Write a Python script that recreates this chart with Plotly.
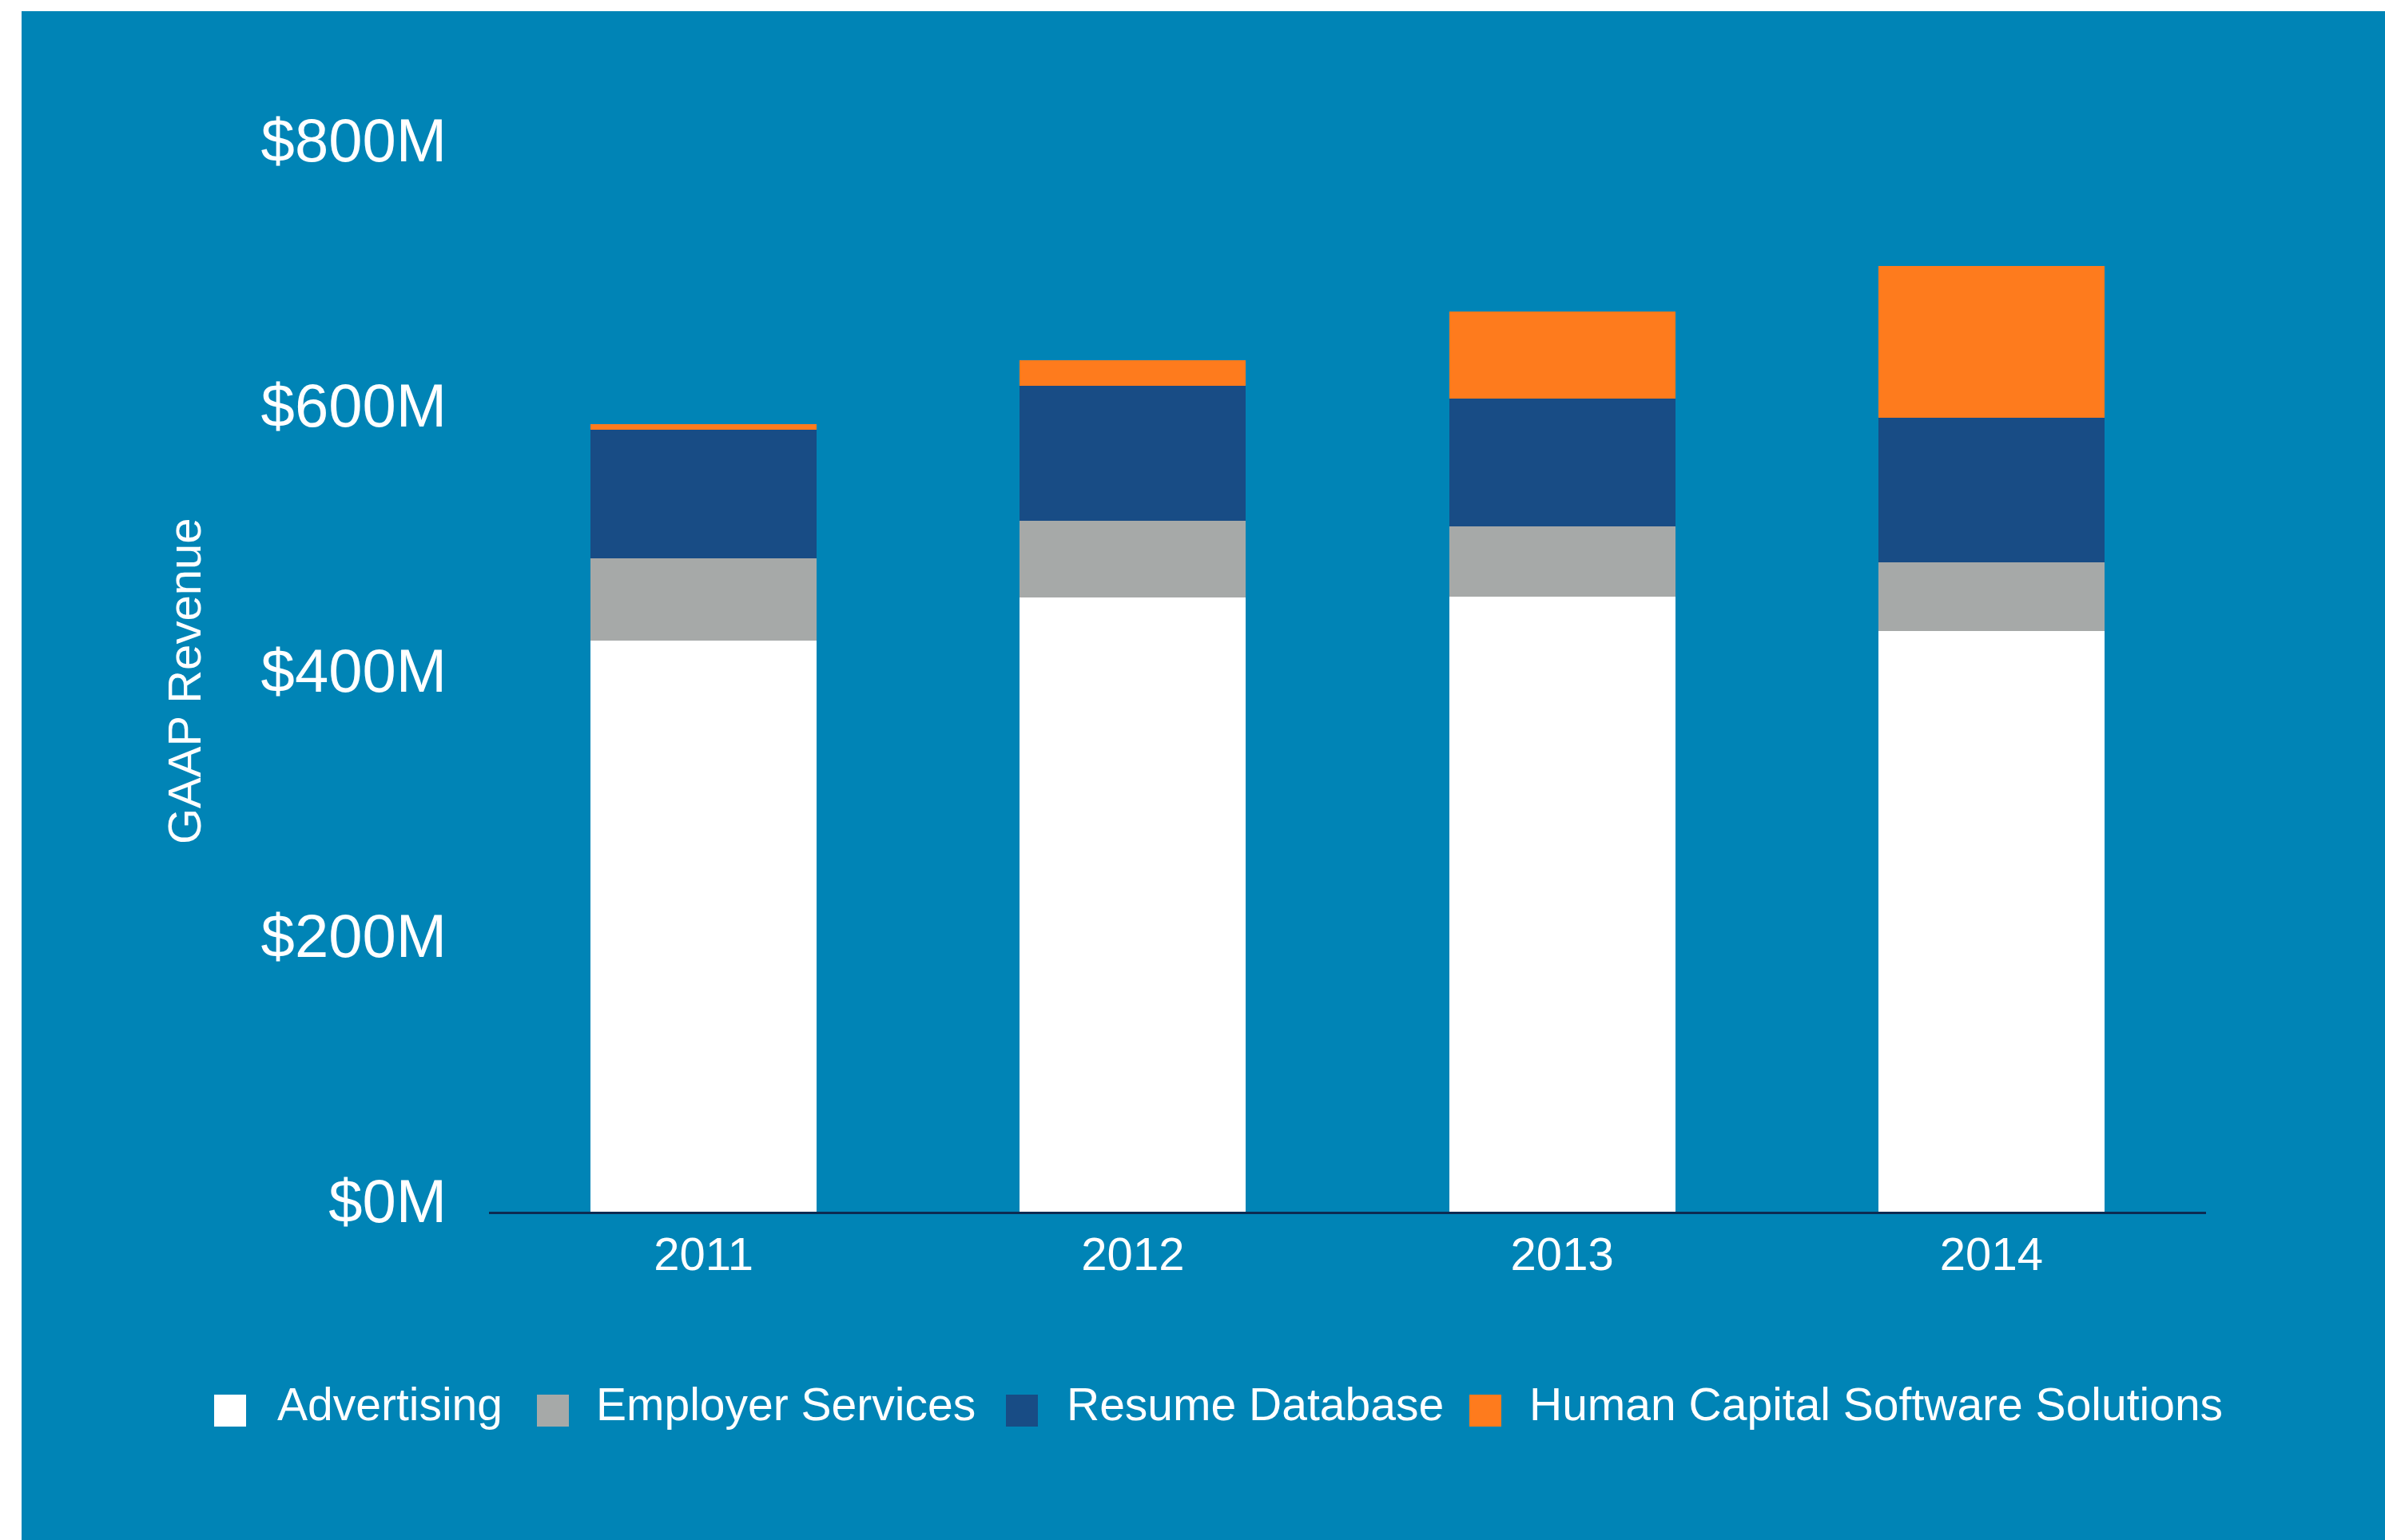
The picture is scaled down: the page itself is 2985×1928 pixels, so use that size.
import plotly.graph_objects as go

# Revenue by segment, $M
years = ["2011", "2012", "2013", "2014"]
advertising = [431, 463, 464, 438]
employer_services = [62, 58, 53, 52]
resume_database = [97, 102, 96, 109]
hcss = [4, 19, 66, 114]

series_names = ["Advertising", "Employer Services", "Resume Database",
                "Human Capital Software Solutions"]
series_colors = ["#FFFFFF", "#A6A9A8", "#184C85", "#FE7B1D"]

y_tickvals = [0, 200, 400, 600, 800]
y_ticktext = ["$0M", "$200M", "$400M", "$600M", "$800M"]

W, H = 2985, 1928
ML, MR, MT, MB = 612, 224, 189, 411
PW, PH = W - ML - MR, H - MT - MB
BG = "#0084B6"
FONT = "Liberation Sans, Arial, sans-serif"


def px_x(px):
    return (px - ML) / PW


def px_y(py):
    return (H - MB - py) / PH


fig = go.Figure()
for name, vals, col in zip(series_names,
                           [advertising, employer_services, resume_database, hcss],
                           series_colors):
    fig.add_trace(go.Bar(x=years, y=vals, name=name, marker_color=col,
                         marker_line_width=0, showlegend=False))

# background panel with thin white frame at top/left
shapes = [dict(type="rect", xref="paper", yref="paper", layer="below",
               x0=px_x(27), x1=px_x(W + 5), y0=px_y(H + 5), y1=px_y(14),
               fillcolor=BG, line_width=0)]

# legend: swatches and labels
swatch_left = [268, 672, 1259, 1839]
label_left = [345, 744, 1333, 1912]
annotations = []
for sx, lx, name, col in zip(swatch_left, label_left, series_names, series_colors):
    shapes.append(dict(type="rect", xref="paper", yref="paper",
                       x0=px_x(sx), x1=px_x(sx + 40), y0=px_y(1786), y1=px_y(1746),
                       fillcolor=col, line_width=0))
    annotations.append(dict(x=px_x(lx), y=px_y(1758), xref="paper", yref="paper",
                            text=name, showarrow=False, xanchor="left", yanchor="middle",
                            font=dict(family=FONT, size=57, color="white")))

annotations.append(dict(x=px_x(230), y=px_y(853), xref="paper", yref="paper",
                        text="GAAP Revenue", showarrow=False, textangle=-90,
                        xanchor="center", yanchor="middle",
                        font=dict(family=FONT, size=58, color="white")))

fig.update_layout(
    width=W, height=H,
    margin=dict(l=ML, r=MR, t=MT, b=MB),
    barmode="stack", bargap=0.473,
    paper_bgcolor="white", plot_bgcolor="rgba(0,0,0,0)",
    font=dict(family=FONT, color="white"),
    shapes=shapes, annotations=annotations,
    xaxis=dict(showline=True, linecolor="#0D2B52", linewidth=3,
               showgrid=False, ticks="", ticklabelstandoff=0,
               tickfont=dict(family=FONT, size=58, color="white")),
    yaxis=dict(range=[0, 800], tickvals=y_tickvals, ticktext=y_ticktext,
               showgrid=False, zeroline=False, showline=False, ticks="",
               ticklabelstandoff=52, ticklabelshift=-14,
               tickfont=dict(family=FONT, size=76, color="white")),
)

fig.write_html("out.html")
